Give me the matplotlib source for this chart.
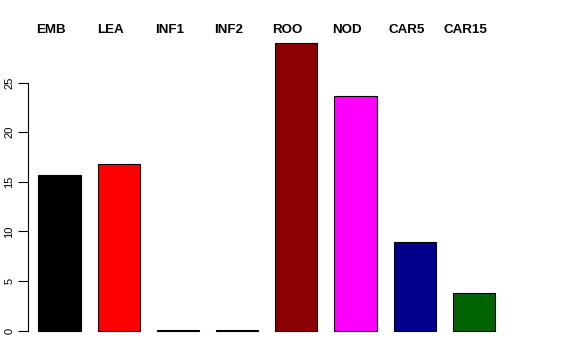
import matplotlib
matplotlib.use("Agg")
import matplotlib.pyplot as plt
import numpy as np

# data
categories = ["EMB", "LEA", "INF1", "INF2", "ROO", "NOD", "CAR5", "CAR15"]
values = [15.7, 16.8, 0.1, 0.1, 29.0, 23.7, 8.9, 3.8]
colors = ["black", "red", "#00CD00", "blue", "#8B0000", "magenta", "#00008B", "#006400"]
yticks = [0, 5, 10, 15, 20, 25]

plt.rcParams["font.family"] = ["Liberation Sans", "DejaVu Sans"]

fig = plt.figure(figsize=(5.76, 3.6), dpi=100)
# axes placed so the y axis sits at ~28px and y=0 at ~331px
px_per_y = 9.92
y0_px = 330.7
ax_bottom_px = 342.0
ax_top_px = 20.0
ax = fig.add_axes([28.3 / 576, (360 - ax_bottom_px) / 360,
                   (560 - 28.3) / 576, (ax_bottom_px - ax_top_px) / 360])

x = np.arange(len(categories))
ax.bar(x, values, width=0.71, color=colors, edgecolor="black", linewidth=0.8)

px_per_x = 59.2
ax.set_xlim((28.3 - 59.5) / px_per_x, (560 - 59.5) / px_per_x)
ax.set_ylim(-(ax_bottom_px - y0_px) / px_per_y, (y0_px - ax_top_px) / px_per_y)

for s in ["top", "right", "bottom"]:
    ax.spines[s].set_visible(False)
ax.spines["left"].set_bounds(0, 25)
ax.spines["left"].set_linewidth(0.8)
ax.set_xticks([])
ax.set_yticks(yticks)
ax.set_yticklabels([str(t) for t in yticks], rotation=90, va="center", fontsize=8)
ax.tick_params(axis="y", length=7, width=0.8, pad=3)

# category names along the top, a little left of each bar centre
label_y = (y0_px - 30) / px_per_y
for xi, name in zip(x, categories):
    ax.text(xi - 8.5 / px_per_x, label_y, name, ha="center", va="center",
            fontsize=9.6, fontweight="bold", clip_on=False)

fig.savefig("out.png", dpi=100)
